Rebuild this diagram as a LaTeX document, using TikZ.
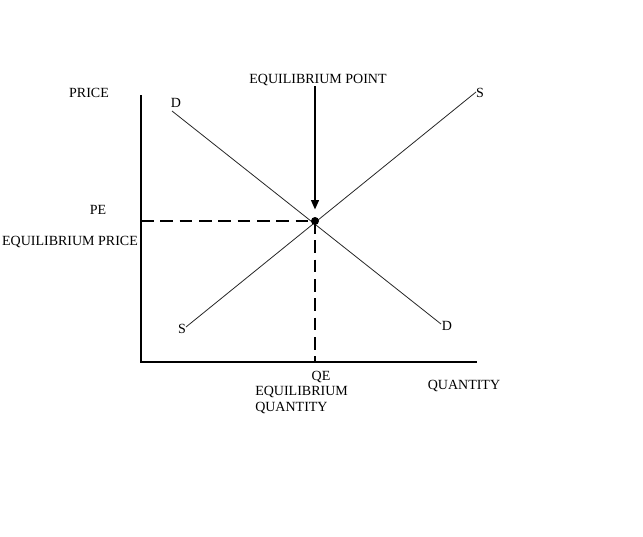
\documentclass[tikz,border=0pt]{standalone}
\usepackage{fontspec}
\setmainfont{Liberation Serif}
\usetikzlibrary{arrows.meta}
\begin{document}
\begin{tikzpicture}[
    x=0.75pt,y=-0.75pt,
    lbl/.style={inner sep=0pt,font=\fontsize{10.5}{12}\selectfont},
    axis/.style={draw,line width=1.1pt},
    curve/.style={draw,line width=0.6pt,black!85},
    guide/.style={draw,line width=0.9pt,dash pattern=on 9.5pt off 5pt},
    pointer/.style={-{Triangle[length=7pt,width=6pt]},draw,line width=0.9pt}
]
    \useasboundingbox (0,0) rectangle (643,536);

    % axes
    \coordinate (origin) at (141,362);
    \coordinate (yTop) at (141,95);
    \coordinate (xEnd) at (477,362);
    \draw[axis] (yTop)--(origin)--(xEnd);

    % demand and supply
    \coordinate (dHigh) at (172,111);
    \coordinate (dLow) at (441,324);
    \coordinate (sLow) at (186,327);
    \coordinate (sHigh) at (476,92);
    \draw[curve] (dHigh)--(dLow);
    \draw[curve] (sLow)--(sHigh);

    % equilibrium
    \node[circle,fill,inner sep=0pt,minimum size=6pt] (equil) at (315,221) {};
    \coordinate (peAxis) at (141,221);
    \coordinate (qeAxis) at (315,362);
    \draw[guide] (peAxis)--(equil.center);
    \draw[guide] (equil.center)--(qeAxis);

    \node[lbl] (eqPoint) at (318,80) {EQUILIBRIUM POINT};
    \coordinate (arrTop) at (315,86);
    \draw[pointer] (arrTop)--([yshift=5.5pt]equil.north);

    % labels
    \node[lbl] (price) at (89,93) {PRICE};
    \node[lbl] (dTop) at (176,103) {D};
    \node[lbl] (sTop) at (480,93) {S};
    \node[lbl] (pe) at (98,210) {PE};
    \node[lbl] (eqPrice) at (70,242) {EQUILIBRIUM PRICE};
    \node[lbl] (sBot) at (182,329) {S};
    \node[lbl] (dBot) at (447,326) {D};
    \node[lbl] (qe) at (321,377) {QE};
    \node[lbl,anchor=west] (eqQty) at (255,392) {EQUILIBRIUM};
    \node[lbl,anchor=west] (eqQty2) at (255,408) {QUANTITY};
    \node[lbl] (quantity) at (464,386) {QUANTITY};
\end{tikzpicture}
\end{document}
